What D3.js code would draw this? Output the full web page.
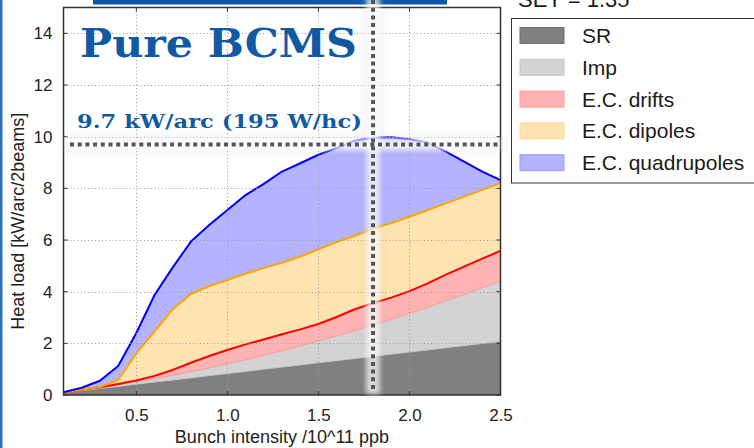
<!DOCTYPE html>
<html>
<head>
<meta charset="utf-8">
<script src="https://cdn.jsdelivr.net/npm/d3@7"></script>
<style>
  html, body { margin: 0; padding: 0; background: #fff; }
  svg { display: block; }
</style>
</head>
<body>
<svg id="chart" width="754" height="448"></svg>
<script>
// Bunch intensity [10^11 ppb]
const intensity = [0.1, 0.2, 0.3, 0.4, 0.5, 0.6, 0.7, 0.8, 0.9, 1.0, 1.1, 1.2, 1.3,
                   1.4, 1.5, 1.6, 1.7, 1.8, 1.9, 2.0, 2.1, 2.2, 2.3, 2.4, 2.5];

// Heat load contributions [kW/arc/2beams], stacked in this order
const srLoad      = [0.08, 0.17, 0.25, 0.33, 0.42, 0.50, 0.58, 0.66, 0.75, 0.83, 0.91, 1.00, 1.08,
                     1.16, 1.25, 1.33, 1.41, 1.49, 1.58, 1.66, 1.74, 1.83, 1.91, 1.99, 2.07];
const impLoad     = [0.00, 0.02, 0.03, 0.06, 0.09, 0.14, 0.18, 0.24, 0.30, 0.38, 0.45, 0.54, 0.63,
                     0.74, 0.84, 0.96, 1.08, 1.22, 1.35, 1.50, 1.65, 1.82, 1.98, 2.16, 2.34];
const driftsLoad  = [0.01, 0.01, 0.02, 0.04, 0.05, 0.10, 0.21, 0.35, 0.46, 0.53, 0.60, 0.61, 0.64,
                     0.64, 0.66, 0.73, 0.83, 0.85, 0.84, 0.86, 0.93, 1.01, 1.08, 1.13, 1.17];
const dipolesLoad = [0.01, 0.01, 0.01, 0.15, 1.05, 1.71, 2.35, 2.66, 2.71, 2.71, 2.74, 2.77, 2.77,
                     2.82, 2.89, 2.90, 2.84, 2.88, 2.89, 2.88, 2.84, 2.76, 2.71, 2.66, 2.62];
const quadsLoad   = [0.01, 0.07, 0.24, 0.54, 0.79, 1.42, 1.62, 2.03, 2.36, 2.71, 3.04, 3.25, 3.53,
                     3.61, 3.66, 3.64, 3.68, 3.52, 3.32, 3.00, 2.61, 2.00, 1.35, 0.71, 0.12];

const seriesNames = ["SR", "Imp", "E.C. drifts", "E.C. dipoles", "E.C. quadrupoles"];
const xTicks = [0.5, 1.0, 1.5, 2.0, 2.5];
const yTicks = [0, 2, 4, 6, 8, 10, 12, 14];

// Reference working point
const limitLoad = 9.7;       // kW/arc
const refIntensity = 1.8;    // 10^11 ppb

const titleText = "Pure BCMS";
const limitText = "9.7 kW/arc (195 W/hc)";
const seyText = "SEY = 1.35";

// ---- styling ----
const fills = {
  "SR": "#808080",
  "Imp": "#d3d3d3",
  "E.C. drifts": "#ffb3b3",
  "E.C. dipoles": "#ffe4b2",
  "E.C. quadrupoles": "#b3b3ff"
};
const edges = {
  "SR": "#6e6e6e",
  "Imp": "#c4c4c4",
  "E.C. drifts": "#ff9a9a",
  "E.C. dipoles": "#ffd58f",
  "E.C. quadrupoles": "#9a9aff"
};
const lineColors = {
  "E.C. drifts": "#ff0000",
  "E.C. dipoles": "#ffa500",
  "E.C. quadrupoles": "#0000ff"
};

const svg = d3.select("#chart");
const plot = { left: 63.5, right: 500.5, top: 7.5, bottom: 395 };

const x = d3.scaleLinear().domain([0.1, 2.5]).range([plot.left, plot.right]);
const y = d3.scaleLinear().domain([0, 15]).range([plot.bottom, plot.top]);

const rows = intensity.map((v, i) => ({
  x: v,
  "SR": srLoad[i],
  "Imp": impLoad[i],
  "E.C. drifts": driftsLoad[i],
  "E.C. dipoles": dipolesLoad[i],
  "E.C. quadrupoles": quadsLoad[i]
}));
const stacked = d3.stack().keys(seriesNames)(rows);

const defs = svg.append("defs");
defs.append("clipPath").attr("id", "plotClip")
  .append("rect")
  .attr("x", plot.left).attr("y", plot.top)
  .attr("width", plot.right - plot.left).attr("height", plot.bottom - plot.top);
function blurFilter(id, sd) {
  const f = defs.append("filter").attr("id", id)
    .attr("filterUnits", "userSpaceOnUse")
    .attr("x", 0).attr("y", 0).attr("width", 754).attr("height", 448);
  f.append("feGaussianBlur").attr("stdDeviation", sd);
}
blurFilter("haloWide", 4);
blurFilter("haloTight", 2.5);

// page decorations
svg.append("rect").attr("x", 0).attr("y", 0).attr("width", 2.5).attr("height", 448)
  .attr("fill", "#2f72bb");
svg.append("rect").attr("x", 93).attr("y", 0).attr("width", 354).attr("height", 4.5)
  .attr("fill", "#0b58a6");

// stacked areas
const area = d3.area()
  .x(d => x(d.data.x))
  .y0(d => y(d[0]))
  .y1(d => y(d[1]));

const plotG = svg.append("g").attr("clip-path", "url(#plotClip)");
plotG.selectAll("path.layer")
  .data(stacked)
  .join("path")
  .attr("class", "layer")
  .attr("d", area)
  .attr("fill", d => fills[d.key])
  .attr("stroke", d => edges[d.key])
  .attr("stroke-width", 1);

// grid
const gridG = svg.append("g").attr("stroke", "#9a9a9a").attr("stroke-width", 1)
  .attr("stroke-dasharray", "1,2.5");
gridG.selectAll("line.gx").data(xTicks.filter(t => t < 2.5)).join("line")
  .attr("x1", d => Math.round(x(d)) + 0.5).attr("x2", d => Math.round(x(d)) + 0.5)
  .attr("y1", plot.top).attr("y2", plot.bottom);
gridG.selectAll("line.gy").data(yTicks.filter(t => t > 0)).join("line")
  .attr("x1", plot.left).attr("x2", plot.right)
  .attr("y1", d => Math.round(y(d)) + 0.5).attr("y2", d => Math.round(y(d)) + 0.5);

// top boundary lines of the electron-cloud layers
const topLine = d3.line().x(d => x(d.data.x)).y(d => y(d[1]));
plotG.selectAll("path.edge")
  .data(stacked.filter(s => lineColors[s.key]))
  .join("path")
  .attr("class", "edge")
  .attr("d", topLine)
  .attr("fill", "none")
  .attr("stroke", d => lineColors[d.key])
  .attr("stroke-width", 2)
  .attr("stroke-linejoin", "round");

// frame
svg.append("rect")
  .attr("x", plot.left).attr("y", plot.top)
  .attr("width", plot.right - plot.left).attr("height", plot.bottom - plot.top)
  .attr("fill", "none").attr("stroke", "#333").attr("stroke-width", 1.5);

// inward ticks on all sides
const tickG = svg.append("g").attr("stroke", "#333").attr("stroke-width", 1);
xTicks.forEach(t => {
  tickG.append("line").attr("x1", x(t)).attr("x2", x(t)).attr("y1", plot.bottom).attr("y2", plot.bottom - 4);
  tickG.append("line").attr("x1", x(t)).attr("x2", x(t)).attr("y1", plot.top).attr("y2", plot.top + 4);
});
yTicks.forEach(t => {
  tickG.append("line").attr("x1", plot.left).attr("x2", plot.left + 4).attr("y1", y(t)).attr("y2", y(t));
  tickG.append("line").attr("x1", plot.right).attr("x2", plot.right - 4).attr("y1", y(t)).attr("y2", y(t));
});

// tick labels via d3 axes (text only)
const fontSans = "'Liberation Sans', Arial, sans-serif";
const xAxis = svg.append("g")
  .attr("transform", `translate(0,${plot.bottom})`)
  .call(d3.axisBottom(x).tickValues(xTicks).tickFormat(d3.format(".1f")).tickSize(0).tickPadding(14));
const yAxis = svg.append("g")
  .attr("transform", `translate(${plot.left},0)`)
  .call(d3.axisLeft(y).tickValues(yTicks).tickFormat(d3.format("d")).tickSize(0).tickPadding(11));
[xAxis, yAxis].forEach(g => {
  g.select(".domain").remove();
  g.selectAll("text").attr("font-family", fontSans).attr("font-size", 17).attr("fill", "#222");
});

svg.append("text")
  .attr("x", x(1.3)).attr("y", 443)
  .attr("text-anchor", "middle")
  .attr("font-family", fontSans).attr("font-size", 18).attr("fill", "#222")
  .text("Bunch intensity /10^11 ppb");
svg.append("text")
  .attr("transform", `translate(24,${(plot.top + plot.bottom) / 2 + 20}) rotate(-90)`)
  .attr("text-anchor", "middle")
  .attr("font-family", fontSans).attr("font-size", 18).attr("fill", "#222")
  .text("Heat load [kW/arc/2beams]");

// working-point markers with a soft halo
const hY = y(limitLoad);
const vX = x(refIntensity);
const haloG = svg.append("g");
// faint outer shadow
haloG.append("rect")
  .attr("x", 64).attr("y", hY - 8).attr("width", 438).attr("height", 16)
  .attr("fill", "rgba(0,0,0,0.06)").attr("filter", "url(#haloWide)");
haloG.append("rect")
  .attr("x", vX - 9).attr("y", -6).attr("width", 18).attr("height", 402)
  .attr("fill", "rgba(0,0,0,0.06)").attr("filter", "url(#haloWide)");
// bright inner band
haloG.append("rect")
  .attr("x", 67).attr("y", hY - 6).attr("width", 432).attr("height", 12)
  .attr("fill", "rgba(255,255,255,0.8)").attr("filter", "url(#haloTight)");
haloG.append("rect")
  .attr("x", vX - 7).attr("y", -4).attr("width", 14).attr("height", 398)
  .attr("fill", "rgba(255,255,255,0.72)").attr("filter", "url(#haloTight)");
// dotted markers
svg.append("line")
  .attr("x1", 70).attr("x2", 498).attr("y1", hY).attr("y2", hY)
  .attr("stroke", "#555").attr("stroke-width", 4).attr("stroke-dasharray", "4,3.7");
svg.append("line")
  .attr("x1", vX).attr("x2", vX).attr("y1", 0).attr("y2", 390)
  .attr("stroke", "#555").attr("stroke-width", 4).attr("stroke-dasharray", "4,3.7");

// annotations
const serif = "'DejaVu Serif', 'Liberation Serif', serif";
svg.append("text")
  .attr("x", 80).attr("y", 57)
  .attr("font-family", serif).attr("font-weight", "bold").attr("font-size", 40)
  .attr("fill", "#1259a3")
  .attr("textLength", 277).attr("lengthAdjust", "spacingAndGlyphs")
  .text(titleText);
svg.append("text")
  .attr("x", 77).attr("y", 128)
  .attr("font-family", serif).attr("font-weight", "bold").attr("font-size", 19)
  .attr("fill", "#1259a3")
  .attr("textLength", 285).attr("lengthAdjust", "spacingAndGlyphs")
  .text(limitText);

// legend
svg.append("text")
  .attr("x", 518).attr("y", 7)
  .attr("font-family", fontSans).attr("font-size", 22).attr("fill", "#1a1a1a")
  .text(seyText);
svg.append("rect")
  .attr("x", 511.5).attr("y", 18.5).attr("width", 260).attr("height", 164.5)
  .attr("fill", "#fff").attr("stroke", "#333").attr("stroke-width", 1);
const legend = svg.append("g");
seriesNames.forEach((name, i) => {
  const cy = 35.5 + i * 31.8;
  legend.append("rect")
    .attr("x", 520).attr("y", cy - 8).attr("width", 44).attr("height", 16)
    .attr("fill", fills[name]).attr("stroke", edges[name]).attr("stroke-width", 1);
  legend.append("text")
    .attr("x", 582).attr("y", cy + 7.5)
    .attr("font-family", fontSans).attr("font-size", 21).attr("fill", "#1a1a1a")
    .text(name);
});
</script>
</body>
</html>
